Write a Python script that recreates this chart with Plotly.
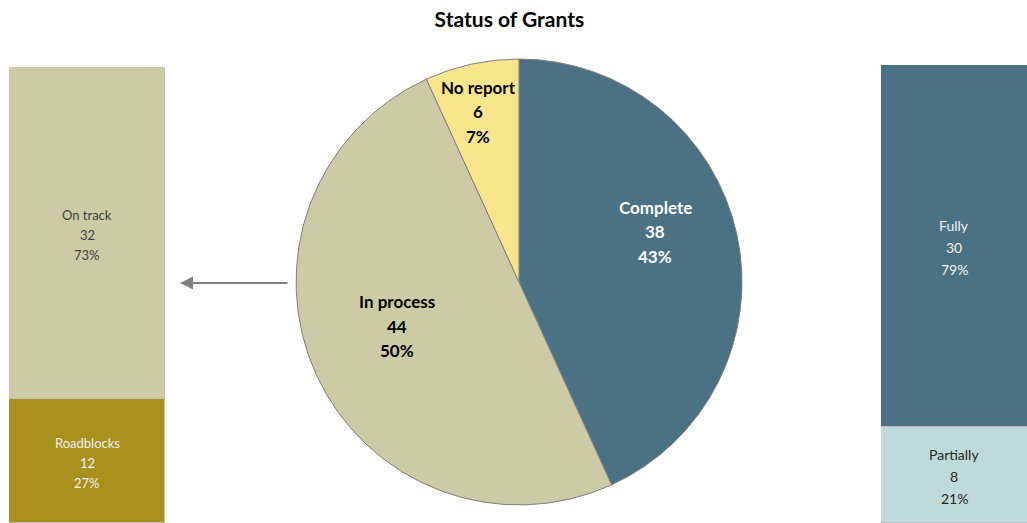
import plotly.graph_objects as go

W, H = 1027, 523

# Pie: overall grant status
status_labels = ["Complete", "In process", "No report"]
status_values = [38, 44, 6]
status_pct = ["43%", "50%", "7%"]
status_colors = ["#4a7184", "#cdcba6", "#f9e68c"]
status_text_colors = ["#ffffff", "#000000", "#000000"]

# Left breakdown: grants in process (listed top to bottom)
process_labels = ["On track", "Roadblocks"]
process_values = [32, 12]
process_pct = ["73%", "27%"]
process_colors = ["#cdcba6", "#a98f1b"]
process_text_colors = ["#404040", "#f2f2f2"]

# Right breakdown: completed grants (listed top to bottom)
complete_labels = ["Fully", "Partially"]
complete_values = [30, 8]
complete_pct = ["79%", "21%"]
complete_colors = ["#4a7184", "#bfdada"]
complete_text_colors = ["#f2f2f2", "#262626"]

FONT = "Lato"

fig = go.Figure()

# pie geometry in pixels
cx, cy, r = 519, 282, 223
fig.add_trace(go.Pie(
    labels=status_labels, values=status_values,
    marker=dict(colors=status_colors, line=dict(color="#7f7f7f", width=1)),
    sort=False, direction="clockwise", rotation=0,
    textinfo="none", hoverinfo="label+value+percent", showlegend=False,
    domain=dict(x=[(cx - r) / W, (cx + r) / W], y=[(H - cy - r) / H, (H - cy + r) / H]),
))

annotations = []

def add_stack(labels, values, pct, colors, text_colors, xaxis, yaxis, size, gap, text_x=0):
    # stack from the bottom up so the first listed segment ends on top
    base = 0
    for lab, val, p, col, tcol in reversed(list(zip(labels, values, pct, colors, text_colors))):
        fig.add_trace(go.Bar(
            x=[0], y=[val], name=lab, marker=dict(color=col, line=dict(color="#bfbfbf", width=1)),
            width=1, xaxis=xaxis, yaxis=yaxis, showlegend=False, hoverinfo="name+y",
        ))
        mid = base + val / 2
        for line, shift in zip([lab, str(val), p], [gap, 0, -gap]):
            annotations.append(dict(
                x=text_x, y=mid, xref=xaxis, yref=yaxis, text=line, showarrow=False, yshift=shift - 2,
                xanchor="center", yanchor="middle",
                font=dict(family=FONT, size=size, color=tcol),
            ))
        base += val

add_stack(process_labels, process_values, process_pct, process_colors, process_text_colors, "x", "y", 13, 20)
add_stack(complete_labels, complete_values, complete_pct, complete_colors, complete_text_colors, "x2", "y2", 14, 22,
          text_x=-0.03)

left_top, right_top = 67, 65
fig.update_layout(
    width=W, height=H, margin=dict(l=0, r=0, t=0, b=0),
    paper_bgcolor="white", plot_bgcolor="rgba(0,0,0,0)",
    barmode="stack", bargap=0,
    xaxis=dict(domain=[9 / W, 165 / W], range=[-0.5, 0.5], visible=False, fixedrange=True),
    yaxis=dict(domain=[0, (H - left_top) / H], range=[0, sum(process_values)], visible=False, fixedrange=True),
    # right bar runs past the edge of the figure
    xaxis2=dict(domain=[881 / W, 1], range=[-0.5, 0.44], visible=False, anchor="y2", fixedrange=True),
    yaxis2=dict(domain=[0, (H - right_top) / H], range=[0, sum(complete_values)], visible=False, anchor="x2", fixedrange=True),
    title=dict(text="<b>Status of Grants</b>", x=0.496, xanchor="center", y=1 - 20 / H, yanchor="middle",
               font=dict(family=FONT, size=21, color="#000000")),
)

# pie slice labels
pie_label_pos = [(655, 232), (397, 326), (478, 112)]
for lab, val, p, col, (px, py) in zip(status_labels, status_values, status_pct, status_text_colors, pie_label_pos):
    for line, dy in zip([lab, str(val), p], [-24.5, 0, 24.5]):
        annotations.append(dict(
            x=px / W, y=(H - py - dy) / H, xref="paper", yref="paper", text=f"<b>{line}</b>",
            showarrow=False, xanchor="center", yanchor="middle",
            font=dict(family=FONT, size=17, color=col),
        ))

# arrow pointing from the pie to the in-process breakdown
annotations.append(dict(
    x=180 / W, y=(H - 283) / H, xref="paper", yref="paper", text="",
    showarrow=True, ax=109, ay=0, arrowhead=2, arrowsize=1.3, arrowwidth=2, arrowcolor="#808080",
))

fig.update_layout(annotations=annotations)
fig.write_html("out.html")
